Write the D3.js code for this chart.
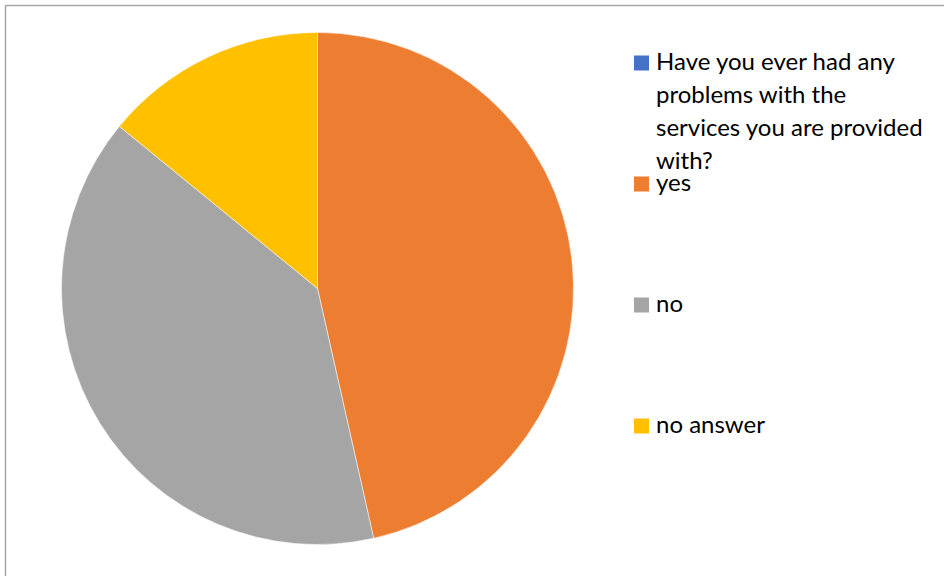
<!DOCTYPE html>
<html>
<head>
<meta charset="utf-8">
<script src="https://cdn.jsdelivr.net/npm/d3@7/dist/d3.min.js"></script>
<style>
  html, body { margin: 0; padding: 0; background: #fff; }
  svg { display: block; }
</style>
</head>
<body>
<svg id="chart" width="944" height="576"></svg>
<script>
// Survey answers: the question itself appears as the first legend entry (zero share)
const categories = [
  "Have you ever had any\nproblems with the\nservices you are provided\nwith?",
  "yes",
  "no",
  "no answer"
];
const values = [0, 33, 28, 10];
const colors = ["#4472C4", "#ED7D31", "#A5A5A5", "#FFC000"];

const W = 944, H = 576;
const svg = d3.select("#chart");

// Chart frame (only top and left edges fall inside the view)
svg.append("path")
  .attr("d", "M5.5,576 V5.5 H944")
  .attr("fill", "none")
  .attr("stroke", "#A6A6A6")
  .attr("stroke-width", 1.5);

const data = categories.map((c, i) => ({ label: c, value: values[i], color: colors[i] }));

// Pie
const cx = 317.5, cy = 288.5, r = 256;
const pie = d3.pie().value(d => d.value).sort(null);
const arc = d3.arc().innerRadius(0).outerRadius(r);

svg.append("g")
  .attr("transform", `translate(${cx},${cy})`)
  .selectAll("path")
  .data(pie(data).filter(d => d.data.value > 0))
  .join("path")
  .attr("d", arc)
  .attr("fill", d => d.data.color)
  .attr("stroke", "#fff")
  .attr("stroke-width", 0.5);

// Legend
const fontFamily = "Lato, 'Open Sans', sans-serif";
const fontSize = 24;
const lineH = 33;
const legendX = 634, textX = 656, sw = 14;
const baselines = [70, 191, 312, 433];

const legend = svg.append("g");
data.forEach((d, i) => {
  const y0 = baselines[i];
  legend.append("rect")
    .attr("x", legendX).attr("y", y0 - sw - 0.5)
    .attr("width", sw + 1).attr("height", sw + 1)
    .attr("fill", d.color);
  const t = legend.append("text")
    .attr("x", textX).attr("y", y0)
    .attr("font-family", fontFamily)
    .attr("font-size", fontSize)
    .attr("fill", "#000");
  d.label.split("\n").forEach((line, k) => {
    t.append("tspan")
      .attr("x", textX)
      .attr("dy", k === 0 ? 0 : lineH)
      .text(line);
  });
});
</script>
</body>
</html>
